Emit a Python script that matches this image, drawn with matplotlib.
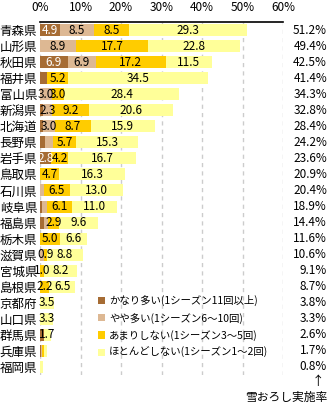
import numpy as np
import matplotlib
matplotlib.use('Agg')
import matplotlib.pyplot as plt

plt.rcParams['font.family'] = ['Noto Sans CJK JP', 'DejaVu Sans']

# --- data ---
prefectures = ['青森県', '山形県', '秋田県', '福井県', '富山県', '新潟県', '北海道',
               '長野県', '岩手県', '鳥取県', '石川県', '岐阜県', '福島県', '栃木県',
               '滋賀県', '宮城県', '島根県', '京都府', '山口県', '群馬県', '兵庫県', '福岡県']
very_often = [4.9, 0.0, 6.9, 1.7, 0.0, 0.7, 0.8, 1.2, 2.8, 0.0, 0.0, 0.5, 1.1, 0.0,
              0.0, 0.0, 0.0, 0.0, 0.0, 0.9, 0.3, 0.0]
somewhat_often = [8.5, 8.9, 6.9, 0.0, 3.0, 2.3, 3.0, 2.0, 0.0, 0.0, 0.9, 1.3, 0.8, 0.0,
                  0.9, 0.0, 0.0, 0.0, 0.0, 0.0, 0.2, 0.0]
not_much = [8.5, 17.7, 17.2, 5.2, 3.0, 9.2, 8.7, 5.7, 4.2, 4.7, 6.5, 6.1, 2.9, 5.0,
            0.9, 1.0, 2.2, 0.0, 0.0, 0.0, 0.4, 0.0]
rarely = [29.3, 22.8, 11.5, 34.5, 28.4, 20.6, 15.9, 15.3, 16.7, 16.3, 13.0, 11.0, 9.6, 6.6,
          8.8, 8.2, 6.5, 3.5, 3.3, 1.7, 0.8, 0.8]
rate = [51.2, 49.4, 42.5, 41.4, 34.3, 32.8, 28.4, 24.2, 23.6, 20.9, 20.4, 18.9, 14.4, 11.6,
        10.6, 9.1, 8.7, 3.8, 3.3, 2.6, 1.7, 0.8]
series_names = ['かなり多い(1シーズン11回以上)', 'やや多い(1シーズン6～10回)',
                'あまりしない(1シーズン3～5回)', 'ほとんどしない(1シーズン1～2回)']
colors = ['#A66C34', '#DDB893', '#FFCC00', '#FFFF99']
# minimum value for a data label to be shown in each series
label_min = [2.3, 2.3, 0.85, 0.85]

fig = plt.figure(figsize=(3.29, 4.04), dpi=100)
ax = fig.add_axes([40 / 329, 1 - 375 / 404, 243 / 329, 353 / 404])

y = np.arange(len(prefectures))
left = np.zeros(len(prefectures))
series = [very_often, somewhat_often, not_much, rarely]
for vals, col, name, lmin, idx in zip(series, colors, series_names, label_min, range(4)):
    vals = np.array(vals)
    ax.barh(y, vals, left=left, height=0.75, color=col, label=name, zorder=2)
    for yi, v, l in zip(y, vals, left):
        if v >= lmin:
            ax.text(l + v / 2, yi, f'{v:.1f}', ha='center', va='center', fontsize=8.5,
                    color='white' if idx == 0 else 'black', zorder=3)
    left += vals

ax.set_ylim(len(prefectures) - 0.5, -0.5)
ax.set_xlim(0, 60)
ax.set_yticks(y)
ax.set_yticklabels(prefectures, fontsize=9)
ax.set_xticks(np.arange(0, 61, 10))
ax.set_xticklabels([f'{t}%' for t in range(0, 61, 10)], fontsize=8.5)
ax.xaxis.tick_top()
ax.tick_params(axis='both', length=0, pad=2)
ax.tick_params(axis='x', pad=6)
for s in ['left', 'right', 'bottom']:
    ax.spines[s].set_visible(False)
ax.spines['top'].set_linewidth(1.2)
ax.xaxis.grid(True, color='#CCCCCC', linestyle=(0, (3, 3)), linewidth=1, zorder=0)
ax.set_axisbelow(True)

# implementation rate column on the right
for yi, r in zip(y, rate):
    ax.text(1.0 + 44 / 243, yi, f'{r:.1f}%', transform=ax.get_yaxis_transform(),
            ha='right', va='center', fontsize=8.5)
fig.text(318 / 329, 1 - 382 / 404, '↑', ha='center', va='center', fontsize=9)
fig.text(327 / 329, 1 - 397 / 404, '雪おろし実施率', ha='right', va='center', fontsize=8.5)

ax.legend(loc='upper left', bbox_to_anchor=(58 / 243, 1 - (295 - 22) / 353),
          frameon=False, fontsize=7.5, handlelength=0.7, handleheight=0.7,
          handletextpad=0.35, labelspacing=0.62, borderpad=0, borderaxespad=0)

fig.savefig('out.png', dpi=100)
